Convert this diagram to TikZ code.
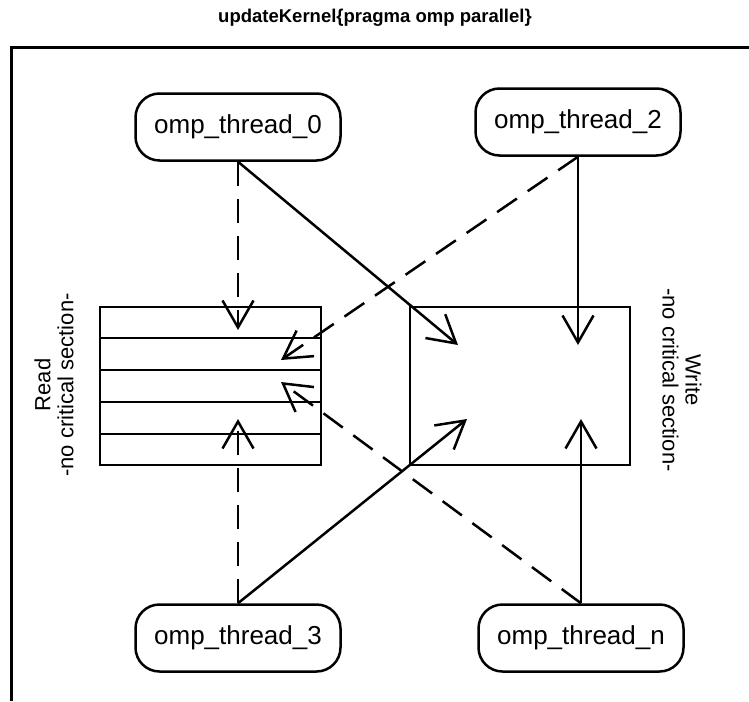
\documentclass[tikz,border=0pt]{standalone}
\usepackage{fontspec}
\setmainfont{Liberation Sans}
\usetikzlibrary{arrows.meta, calc}

\begin{document}
\begin{tikzpicture}[
  x=1pt, y=-1pt, line width=2.5pt,
  >={Straight Barb[length=27pt, width=31pt]},
  thread/.style={draw, rounded corners=24pt, minimum width=205pt, minimum height=67pt,
    inner sep=0pt, font=\fontsize{26}{30}\selectfont},
  store/.style={draw, minimum width=221pt, minimum height=158pt, inner sep=0pt},
  dashline/.style={dash pattern=on 24pt off 13pt},
  side/.style={align=center, font=\fontsize{22}{23}\selectfont}]

  \useasboundingbox (0,0) rectangle (749,701);
  \clip (0,0) rectangle (749,701);

  % titulo y marco
  \node[font=\bfseries\fontsize{18.5}{22}\selectfont] (title) at (375,18)
    {updateKernel\{pragma omp parallel\}};
  \draw[line width=3pt] (749,48) -- (11,48) -- (11,701);

  % hilos
  \node[thread] (t0) at (238,127) {omp\_thread\_0};
  \node[thread] (t2) at (578,122) {omp\_thread\_2};
  \node[thread] (t3) at (238,638) {omp\_thread\_3};
  \node[thread] (tn) at (581,638) {omp\_thread\_n};

  % zonas de lectura y escritura
  \node[store] (rd) at (210.5,386) {};
  \node[store, minimum width=220pt] (wr) at (520,386) {};
  \foreach \k in {1,...,4}
    \draw ($(rd.north west)!\k/5!(rd.south west)$) -- ($(rd.north east)!\k/5!(rd.south east)$);

  \node[side, rotate=90]  (rdl) at (54,385)  {Read\\-no critical section-};
  \node[side, rotate=-90] (wrl) at (682,380) {Write\\-no critical section-};

  % puntas de flecha
  \coordinate (r0) at (238,330);
  \coordinate (r2) at (281,360);
  \coordinate (rn) at (281,382);
  \coordinate (r3) at (238,419);
  \coordinate (w0) at (458,345);
  \coordinate (w2) at (578,345);
  \coordinate (w3) at (467,419);
  \coordinate (wn) at (581,419);

  % accesos
  \draw[->, dashline] (t0.south) -- (r0);
  \draw[->] (t0.south) -- (w0);
  \draw[->] (t2.south) -- (w2);
  \draw[->, dashline] (t2.south) -- (r2);
  \draw[->, dashline] (t3.north) -- (r3);
  \draw[->] (t3.north) -- (w3);
  \draw[->] (tn.north) -- (wn);
  \draw[->, dashline] (tn.north) -- (rn);
\end{tikzpicture}
\end{document}
